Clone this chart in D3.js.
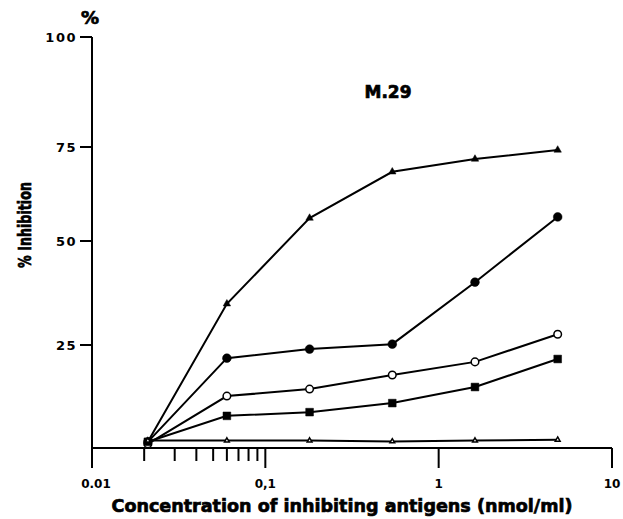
<!DOCTYPE html>
<html>
<head>
<meta charset="utf-8">
<script src="https://cdn.jsdelivr.net/npm/d3@7"></script>
<style>
  body { margin: 0; background: #fff; }
  text { font-family: "DejaVu Sans", Roboto, sans-serif; fill: #000; }
  .heavy { stroke: #000; stroke-width: 0.7; }
</style>
</head>
<body>
<div id="chart-area"></div>
<script>
// concentrations (nmol/ml), triple dilutions
var conc = [0.021, 0.06, 0.18, 0.54, 1.62, 4.86];

// % inhibition per antigen
var filledTriangle = [1.5, 34.9, 56.1, 68.4, 71.8, 74.2];
var filledCircle   = [1.5, 21.8, 24.0, 25.2, 40.1, 56.4];
var openCircle     = [1, 12.6, 14.3, 17.7, 20.9, 27.6];
var filledSquare   = [1.5, 7.8, 8.7, 10.9, 14.8, 21.6];
var openTriangle   = [1.8, 1.8, 1.8, 1.6, 1.8, 2.0];

var yTicks = [25, 50, 75, 100];
var xMajor = [0.01, 0.1, 1, 10];
var xMajorLabels = ["0.01", "0,1", "1", "10"];
var xMinor = [0.02, 0.03, 0.04, 0.05, 0.06, 0.07, 0.08, 0.09];

var W = 623, H = 519;

var svg = d3.select("#chart-area")
  .append("svg")
    .attr("width", W)
    .attr("height", H);

// scales (the printed y axis is not quite evenly spaced, so piecewise)
var x = d3.scaleLog().domain([0.01, 10]).range([92, 612]);
var y = d3.scaleLinear().domain([0, 25, 50, 75, 100]).range([448, 345, 241, 147, 37]);

var axisG = svg.append("g")
  .attr("stroke", "#000")
  .attr("stroke-width", 2)
  .attr("fill", "none");

// y-axis line (runs down past the x-axis as the 0.01 tick)
axisG.append("line")
  .attr("x1", x(0.01)).attr("x2", x(0.01))
  .attr("y1", y(100)).attr("y2", y(0) + 20);

// x-axis line
axisG.append("line")
  .attr("x1", x(0.01)).attr("x2", x(10))
  .attr("y1", y(0)).attr("y2", y(0));

// y ticks
axisG.selectAll(".ytick")
  .data(yTicks)
  .enter().append("line")
    .attr("x1", x(0.01) - 12).attr("x2", x(0.01))
    .attr("y1", d => y(d)).attr("y2", d => y(d));

svg.selectAll(".ylab")
  .data(yTicks)
  .enter().append("text")
    .attr("x", x(0.01) - 15)
    .attr("y", d => y(d) + 5)
    .attr("text-anchor", "end")
    .attr("font-size", 13)
    .attr("font-weight", 700)
    .attr("letter-spacing", 1.5)
    .text(d => d);

// x ticks
axisG.selectAll(".xmaj")
  .data(xMajor.slice(1))
  .enter().append("line")
    .attr("x1", d => x(d)).attr("x2", d => x(d))
    .attr("y1", y(0)).attr("y2", y(0) + 20);

axisG.selectAll(".xmin")
  .data(xMinor)
  .enter().append("line")
    .attr("x1", d => x(d)).attr("x2", d => x(d))
    .attr("y1", y(0)).attr("y2", y(0) + 13);

svg.selectAll(".xlab")
  .data(xMajor)
  .enter().append("text")
    .attr("x", (d, i) => x(d) + (i == 0 ? 4 : 0))
    .attr("y", 488)
    .attr("text-anchor", "middle")
    .attr("font-size", 12)
    .attr("font-weight", 700)
    .text((d, i) => xMajorLabels[i]);

// titles
svg.append("text")
  .attr("class", "heavy")
  .attr("x", 90).attr("y", 24)
  .attr("text-anchor", "middle")
  .attr("font-size", 18)
  .attr("font-weight", 700)
  .text("%");

svg.append("text")
  .attr("class", "heavy")
  .attr("transform", "translate(31,225) rotate(-90)")
  .attr("text-anchor", "middle")
  .attr("font-size", 17)
  .attr("font-weight", 700)
  .attr("textLength", 86)
  .attr("lengthAdjust", "spacingAndGlyphs")
  .text("% Inhibition");

svg.append("text")
  .attr("class", "heavy")
  .attr("x", 342).attr("y", 512)
  .attr("text-anchor", "middle")
  .attr("font-size", 18)
  .attr("font-weight", 700)
  .attr("textLength", 461)
  .attr("lengthAdjust", "spacingAndGlyphs")
  .text("Concentration of inhibiting antigens (nmol/ml)");

svg.append("text")
  .attr("class", "heavy")
  .attr("x", 388).attr("y", 98)
  .attr("text-anchor", "middle")
  .attr("font-size", 17)
  .attr("font-weight", 700)
  .attr("textLength", 47)
  .attr("lengthAdjust", "spacingAndGlyphs")
  .text("M.29");

// series
var series = [
  { vals: filledTriangle, shape: d3.symbolTriangle, size: 24, fill: "#000" },
  { vals: filledCircle,   shape: d3.symbolCircle,   size: 60, fill: "#000" },
  { vals: openCircle,     shape: d3.symbolCircle,   size: 45, fill: "#fff" },
  { vals: filledSquare,   shape: d3.symbolSquare,   size: 60, fill: "#000" },
  { vals: openTriangle,   shape: d3.symbolTriangle, size: 10, fill: "#fff" }
];

var line = d3.line()
  .x(d => x(d.c))
  .y(d => y(d.v));

series.forEach(function(s) {
  var pts = conc.map((c, i) => ({ c: c, v: s.vals[i] }));

  svg.append("path")
    .datum(pts)
    .attr("d", line)
    .attr("fill", "none")
    .attr("stroke", "#000")
    .attr("stroke-width", 2);

  svg.selectAll(null)
    .data(pts)
    .enter().append("path")
      .attr("transform", d => "translate(" + x(d.c) + "," + y(d.v) + ")")
      .attr("d", d3.symbol().type(s.shape).size(s.size))
      .attr("fill", s.fill)
      .attr("stroke", "#000")
      .attr("stroke-width", s.fill == "#fff" ? 1.5 : 0.5);
});
</script>
</body>
</html>
